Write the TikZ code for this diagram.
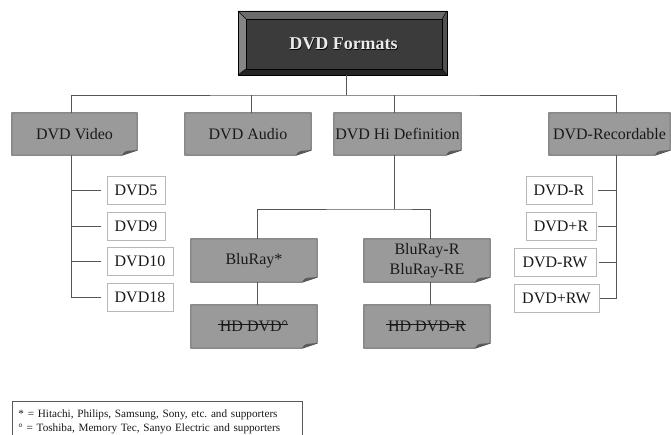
\documentclass[tikz,border=0pt]{standalone}
\usepackage{fontspec}
\setmainfont{Liberation Serif}
\frenchspacing
\definecolor{boxgray}{HTML}{9A9A9A}
\definecolor{edgegray}{HTML}{4A4A4A}
\definecolor{wiregray}{HTML}{555555}
\definecolor{leafedge}{HTML}{B8B8B8}
\definecolor{foldgray}{HTML}{5A5A5A}
\definecolor{faceblack}{HTML}{3B3B3B}
\newsavebox\crossbox
\newcommand\crossedtext[1]{\sbox\crossbox{#1}\rlap{\kern-2pt\rule[0.45em]{\dimexpr\wd\crossbox+2pt\relax}{0.7pt}}\usebox\crossbox}
% grey box with a turned-down bottom right corner
\newcommand\dogear[1]{%
  \fill[white] ([yshift=5pt]#1.south east) -- (#1.south east) -- ([xshift=-15pt]#1.south east) -- cycle;
  \draw[boxline] (#1.north west) -- (#1.north east) -- ([yshift=5pt]#1.south east)
    -- ([xshift=-15pt]#1.south east) -- (#1.south west) -- cycle;
  \fill[foldgray] ([yshift=5pt]#1.south east) -- ([xshift=-9pt,yshift=4.5pt]#1.south east)
    .. controls ([xshift=-13pt,yshift=3.5pt]#1.south east) .. ([xshift=-15pt]#1.south east) -- cycle;
}
\begin{document}
\begin{tikzpicture}[x=1pt,y=-1pt,
  wire/.style={draw=wiregray, line width=0.9pt},
  boxline/.style={draw=edgegray, line width=0.8pt},
  greybox/.style={fill=boxgray, inner sep=0pt, minimum height=42pt, align=center,
    text=black!90, font=\fontsize{16}{20}\selectfont},
  leaf/.style={draw=leafedge, line width=0.8pt, fill=white, inner sep=0pt, minimum height=28pt,
    text=black!90, font=\fontsize{16}{18}\selectfont},
]
\useasboundingbox (0,0) rectangle (671,435);
\clip (0,0) rectangle (671,435);

% bevelled title block
\coordinate (o1) at (238,11); \coordinate (o2) at (447,11);
\coordinate (o3) at (447,75); \coordinate (o4) at (238,75);
\coordinate (i1) at (246,19); \coordinate (i2) at (442,19);
\coordinate (i3) at (442,69); \coordinate (i4) at (246,69);
\fill[black!58] (o1) -- (o2) -- (i2) -- (i1) -- cycle;
\fill[black!48] (o1) -- (i1) -- (i4) -- (o4) -- cycle;
\fill[black!68] (o2) -- (o3) -- (i3) -- (i2) -- cycle;
\fill[black!85] (o4) -- (i4) -- (i3) -- (o3) -- cycle;
\fill[faceblack] (i1) -- (i2) -- (i3) -- (i4) -- cycle;
\draw[black, line width=0.7pt] (o1) -- (o2) -- (o3) -- (o4) -- cycle;
\draw[black, line width=0.5pt] (i1) -- (i2) -- (i3) -- (i4) -- cycle;
\draw[black, line width=0.5pt] (o1) -- (i1) (o2) -- (i2) (o3) -- (i3) (o4) -- (i4);
\node[text=black, font=\fontsize{18}{20}\selectfont\bfseries] at (344.2,44.8) {DVD Formats};
\node[text=white!92!black, font=\fontsize{18}{20}\selectfont\bfseries] (title) at (343.5,44) {DVD Formats};
\coordinate (titlefoot) at (346,75);
\coordinate (bus) at (346,95);

% first level
\node[greybox, minimum width=125pt] (video) at (74.5,134) {DVD Video};
\node[greybox, minimum width=126pt] (audio) at (248,134) {DVD Audio};
\node[greybox, minimum width=127pt] (hidef) at (397.5,134) {DVD Hi Definition};
\node[greybox, minimum width=121pt] (record) at (609.5,134) {DVD-Recordable};
\dogear{video}\dogear{audio}\dogear{hidef}\dogear{record}

\draw[wire] (titlefoot) -- (bus);
\draw[wire] ([xshift=-3.5pt]video.north) |- (bus) -| ([xshift=6.5pt]record.north);
\draw[wire] ([xshift=3pt]audio.north) -- ([xshift=3pt]audio.north |- bus);
\draw[wire] ([xshift=-3.5pt]hidef.north) -- ([xshift=-3.5pt]hidef.north |- bus);

% DVD Video family
\node[leaf, minimum width=58pt] (d5)  at (136,190) {DVD5};
\node[leaf, minimum width=58pt] (d9)  at (136,226) {DVD9};
\node[leaf, minimum width=66pt] (d10) at (140,261.5) {DVD10};
\node[leaf, minimum width=66pt] (d18) at (140,297.5) {DVD18};
\draw[wire] ([xshift=-3.5pt]video.south) coordinate (vs) -- (vs |- d18.west) -- ([xshift=-6pt]d18.west);
\foreach \n in {d5,d9,d10} \draw[wire] (vs |- \n.west) -- ([xshift=-6pt]\n.west);

% recordable family
\node[leaf, minimum width=66pt] (rm)  at (559,190) {DVD-R};
\node[leaf, minimum width=70pt] (rp)  at (561,226) {DVD+R};
\node[leaf, minimum width=82pt] (rwm) at (555,262) {DVD-RW};
\node[leaf, minimum width=85pt] (rwp) at (556.5,298) {DVD+RW};
\draw[wire] ([xshift=6.5pt]record.south) coordinate (rs) -- (rs |- rwp.east) -- ([xshift=1pt]rwp.east);
\draw[wire] (rs |- rm.east) -- ([xshift=6pt]rm.east);
\draw[wire] (rs |- rp.east) -- ([xshift=2pt]rp.east);
\draw[wire] (rs |- rwm.east) -- ([xshift=3pt]rwm.east);

% high definition family
\node[greybox, minimum width=126pt, minimum height=43pt] (blu)  at (254,260.5) {BluRay*};
\node[greybox, minimum width=126pt, minimum height=43pt] (blur) at (427,260.5) {BluRay-R\\BluRay-RE};
\node[greybox, minimum width=126pt, minimum height=43pt] (hd)   at (254,326.5) {\crossedtext{HD DVD°}};
\node[greybox, minimum width=126pt, minimum height=43pt] (hdr)  at (427,326.5) {\crossedtext{HD DVD-R}};
\dogear{blu}\dogear{blur}\dogear{hd}\dogear{hdr}
\coordinate (split) at (394,209);
\draw[wire] ([xshift=-3.5pt]hidef.south) -- ([xshift=-3.5pt]hidef.south |- split);
\draw[wire] ([xshift=3pt]blu.north) |- (split) -| ([xshift=3pt]blur.north);
\draw[wire] ([xshift=3pt]blu.south) -- ([xshift=3pt]hd.north);
\draw[wire] ([xshift=3pt]blur.south) -- ([xshift=3pt]hdr.north);

% legend
\node[draw=black!65, line width=0.9pt, anchor=north west, minimum width=290pt, minimum height=40pt,
  inner xsep=6pt, inner ysep=6pt, text width=278pt, align=left,
  font=\fontsize{11.2}{14}\selectfont, text=black!90] (legend) at (12,401)
  {* = Hitachi, Philips, Samsung, Sony, etc. and supporters\\
   ° = Toshiba, Memory Tec, Sanyo Electric and supporters};
\end{tikzpicture}
\end{document}
